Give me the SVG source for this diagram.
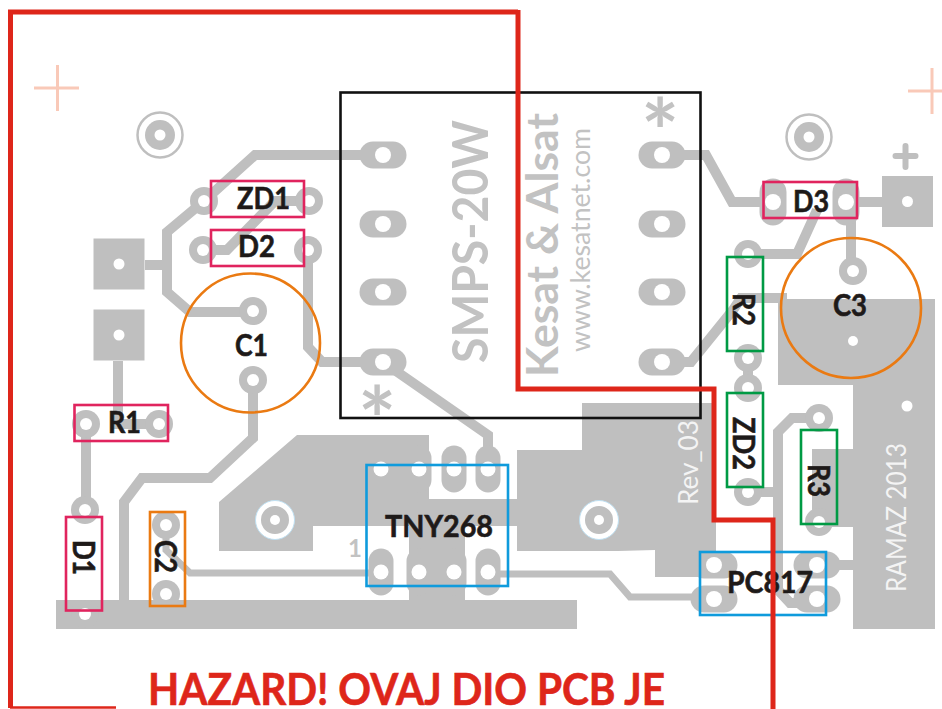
<svg xmlns="http://www.w3.org/2000/svg" width="942" height="709" viewBox="0 0 942 709">
<style>
.cu{fill:#bfbfbf}
.tr{fill:none;stroke:#bfbfbf;stroke-width:10;stroke-linejoin:miter}
.th{stroke-width:7}
.h{fill:#fff}
.cross{stroke:#f9c9b8;stroke-width:3;fill:none}
.box{fill:none;stroke-width:2.6}
.pk{stroke:#e0245e}.gn{stroke:#009a44}.or{stroke:#ea7a12}.bl{stroke:#0f9bdc}
.l{font-family:Lato,"Liberation Sans",sans-serif;font-weight:700;font-size:30px;fill:#1e1a19;stroke:#1e1a19;stroke-width:.6px}
.g{font-family:Lato,"Liberation Sans",sans-serif;fill:#c2c2c2}
.w{font-family:Lato,"Liberation Sans",sans-serif;fill:#f4f4f4;font-size:27px}
.red{fill:none;stroke:#de261a;stroke-width:5}
</style>
<defs>
<g id="p"><circle r="14" class="cu"/><circle r="6" class="h"/></g>
<g id="s"><rect x="-25.500" y="-25.500" width="51" height="51" class="cu"/><circle r="5.500" class="h"/></g>
<g id="ph"><rect x="-23.500" y="-13.500" width="47" height="27" rx="13.500" class="cu"/><circle r="8" class="h"/></g>
<g id="pv"><rect x="-13.500" y="-23.500" width="27" height="47" rx="13.500" class="cu"/><circle r="8" class="h"/></g>
<g id="pic"><rect x="-12.500" y="-23.500" width="25" height="47" rx="12.500" class="cu"/><circle r="7.500" class="h"/></g>
<g id="m"><circle r="22.500" fill="none" stroke="#bfbfbf" stroke-width="2.500"/><circle r="15" class="cu"/><circle r="5.500" class="h"/></g>
<g id="mi"><circle r="19.500" fill="#fff" stroke="#bfe0f2" stroke-width="1"/><circle r="14" class="cu"/><circle r="5" class="h"/></g>
</defs>
<rect width="942" height="709" fill="#fff"/>

<g id="copper">
<polygon class="cu" points="56,600 577,600 577,629 56,629"/>
<polygon class="cu" points="219,502 297,435 429,435 429,499 517,499 517,450 582,450 582,403 716,403 716,552 700,552 700,577 655,577 655,550 618,551 517,551 517,526 465,526 465,600 409,600 409,526 313,526 313,551 219,551"/>
<polygon class="cu" points="778,299 935,299 935,629 853,629 853,527 812,527 812,449 853,449 853,385 778,385"/>
</g>

<g id="connectors">
<path class="tr" d="M383 155H255L204 201L167 232V292L190 312H253"/>
<path class="tr" d="M145 265H167"/>
<path class="tr" d="M309 201H275L227 250H203"/>
<path class="tr" d="M308 250V347L322 362H383"/>
<path class="tr" d="M253 380V438L210 478H142L124 502V600"/>
<path class="tr" d="M118 361V424H159"/>
<path class="tr" d="M86 424V510"/>
<path class="tr th" d="M166 525V550L190 573H370"/>
<path class="tr" d="M383 362L488 435V469"/>
<path class="tr th" d="M488 574H610L630 597H700"/>
<path class="tr" d="M662 155H706L732 202H773"/>
<path class="tr" d="M846 202H882"/>
<path class="tr" d="M851 202V271"/>
<path class="tr" d="M662 362H691L733 310L741 298H787"/>
<path class="tr" d="M748 254H797L817 210"/>
<path class="tr" d="M748 358V388"/>
<path class="tr" d="M819 418H792L778 432V590L790 603H817"/>
<path class="tr" d="M748 492H778"/>
<path class="tr" d="M817 565H853"/>
</g>

<g id="marks">
<path class="cross" d="M34 88H79M57.500 65V111"/>
<path class="cross" d="M908 91H942M932 68V114"/>
<use href="#m" x="160" y="135"/>
<use href="#m" x="809" y="137"/>
<use href="#mi" x="275" y="520"/>
<use href="#mi" x="599" y="520"/>
<path d="M905.500 146V167M895.500 156H915.500" fill="none" stroke="#bfbfbf" stroke-width="6" stroke-linecap="round"/>
<circle cx="907" cy="406" r="5.500" class="h"/>
<text class="g" x="641" y="165" font-size="90" font-weight="700">*</text>
<text class="g" x="358" y="453" font-size="90" font-weight="700">*</text>
<text class="g" x="348" y="557" font-size="24" font-weight="700" fill="#d6d6d6">1</text>
<text class="g" transform="translate(488 363) rotate(-90)" font-size="50" font-weight="700" textLength="243" lengthAdjust="spacingAndGlyphs">SMPS-20W</text>
<text class="g" transform="translate(558 377) rotate(-90)" font-size="43" font-weight="700" textLength="264" lengthAdjust="spacingAndGlyphs">Kesat &amp; Alsat</text>
<text class="g" transform="translate(590 352) rotate(-90)" font-size="26" textLength="224" lengthAdjust="spacingAndGlyphs">www.kesatnet.com</text>
<text class="w" transform="translate(698 505) rotate(-90)" textLength="85" lengthAdjust="spacingAndGlyphs">Rev_03</text>
<text class="w" transform="translate(906 592) rotate(-90)" textLength="149" lengthAdjust="spacingAndGlyphs">RAMAZ 2013</text>
</g>

<g id="J1"><use href="#s" x="119" y="264"/></g>
<g id="J2"><use href="#s" x="119" y="335"/></g>
<g id="J3"><use href="#s" x="907.500" y="201.500"/></g>

<g id="SMPS"><rect class="box" x="340.500" y="92.500" width="360" height="325.500" stroke="#111"/>
<use href="#ph" x="383" y="155"/><use href="#ph" x="383" y="224"/><use href="#ph" x="383" y="292"/><use href="#ph" x="383" y="362"/>
<use href="#ph" x="662" y="155"/><use href="#ph" x="662" y="224"/><use href="#ph" x="662" y="292"/><use href="#ph" x="662" y="362"/></g>

<g id="ZD1"><use href="#p" x="204" y="201"/><use href="#p" x="309" y="201"/><rect class="box pk" x="211" y="181" width="93" height="36"/><text class="l" x="237" y="209" textLength="53" lengthAdjust="spacingAndGlyphs">ZD1</text></g>
<g id="D2"><use href="#p" x="203" y="250"/><use href="#p" x="308" y="250"/><rect class="box pk" x="211" y="230" width="93" height="36"/><text class="l" x="238" y="257" textLength="37" lengthAdjust="spacingAndGlyphs">D2</text></g>
<g id="C1"><use href="#p" x="253" y="311"/><use href="#p" x="253" y="380"/><circle class="box or" cx="250.500" cy="343" r="69.500" stroke-width="2"/><text class="l" x="235" y="356" textLength="33" lengthAdjust="spacingAndGlyphs">C1</text></g>
<g id="R1"><use href="#p" x="86" y="424"/><use href="#p" x="159" y="424"/><rect class="box pk" x="74.500" y="405" width="93.500" height="36"/><text class="l" x="108" y="433" textLength="33" lengthAdjust="spacingAndGlyphs">R1</text></g>
<g id="D1"><use href="#p" x="85" y="510"/><use href="#p" x="85" y="614"/><rect class="box pk" x="66" y="517" width="36" height="93.500"/><text class="l" transform="translate(73 540) rotate(90)" textLength="35" lengthAdjust="spacingAndGlyphs">D1</text></g>
<g id="C2"><use href="#p" x="166" y="525"/><use href="#p" x="166" y="594"/><rect class="box or" x="150" y="512" width="35" height="94"/><text class="l" transform="translate(155 540) rotate(90)" textLength="33" lengthAdjust="spacingAndGlyphs">C2</text></g>
<g id="TNY268">
<circle cx="381" cy="469" r="7.500" class="h"/><use href="#pic" x="419" y="469"/><use href="#pic" x="454" y="469"/><use href="#pic" x="488" y="469"/>
<use href="#pic" x="381" y="572"/><use href="#pic" x="419" y="572"/><use href="#pic" x="454" y="572"/><use href="#pic" x="488" y="572"/>
<rect class="box bl" x="366.500" y="465" width="141.500" height="121"/><text class="l" x="385" y="537" textLength="108" lengthAdjust="spacingAndGlyphs">TNY268</text></g>
<g id="D3"><use href="#pv" x="773" y="202"/><use href="#pv" x="846" y="202"/><rect class="box pk" x="763.500" y="182" width="93.500" height="36"/><text class="l" x="793" y="212" textLength="36" lengthAdjust="spacingAndGlyphs">D3</text></g>
<g id="C3"><use href="#p" x="853" y="271"/><circle cx="853" cy="341" r="5" class="h"/><circle class="box or" cx="851" cy="308" r="70" stroke-width="2"/><text class="l" x="833" y="316" textLength="34" lengthAdjust="spacingAndGlyphs">C3</text></g>
<g id="R2"><use href="#p" x="748" y="254"/><use href="#p" x="748" y="358"/><rect class="box gn" x="727" y="257" width="36" height="94"/><text class="l" transform="translate(733 293) rotate(90)" textLength="33" lengthAdjust="spacingAndGlyphs">R2</text></g>
<g id="ZD2"><use href="#p" x="748" y="388"/><use href="#p" x="748" y="492"/><rect class="box gn" x="727" y="393" width="36" height="94"/><text class="l" transform="translate(733 417) rotate(90)" textLength="53" lengthAdjust="spacingAndGlyphs">ZD2</text></g>
<g id="R3"><use href="#p" x="819" y="418"/><use href="#p" x="819" y="522"/><rect class="box gn" x="801" y="430" width="36" height="94"/><text class="l" transform="translate(808 464) rotate(90)" textLength="33" lengthAdjust="spacingAndGlyphs">R3</text></g>
<g id="PC817"><use href="#ph" x="714" y="565"/><use href="#ph" x="714" y="599"/><use href="#ph" x="817" y="565"/><use href="#ph" x="817" y="599"/><rect class="box bl" x="700" y="552" width="126" height="63"/>
<text class="l" x="727" y="593" textLength="86" lengthAdjust="spacingAndGlyphs">PC817</text></g>

<g id="red-line"><path class="red" d="M518 12H10.500V708"/><path class="red" d="M518 10V389H714V520H773V709"/><path d="M10 707.500H116" stroke="#de261a" stroke-width="2.500" fill="none"/></g>

<text id="hazard" x="148" y="705" font-family="Lato,'Liberation Sans',sans-serif" font-weight="700" font-size="43" fill="#de261a" stroke="#de261a" stroke-width=".6" textLength="517" lengthAdjust="spacingAndGlyphs">HAZARD! OVAJ DIO PCB JE</text>
</svg>
